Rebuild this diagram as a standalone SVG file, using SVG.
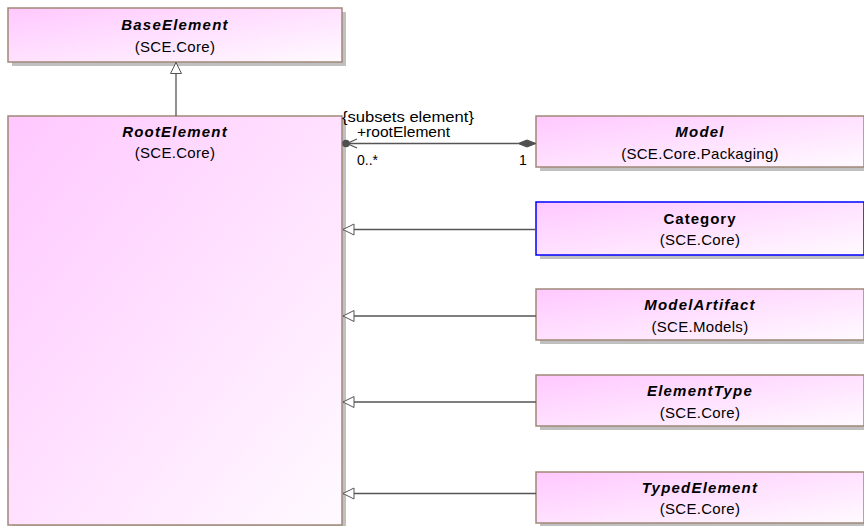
<svg xmlns="http://www.w3.org/2000/svg" width="864" height="526" viewBox="0 0 864 526">
<defs>
<linearGradient id="fill" x1="0" y1="0" x2="1" y2="1">
<stop offset="0" stop-color="#ffc8ff"/>
<stop offset="1" stop-color="#fffaff"/>
</linearGradient>
<marker id="gen" markerWidth="14" markerHeight="14" refX="12" refY="7" orient="auto" markerUnits="userSpaceOnUse">
<path d="M12,7 L1,1.5 L1,12.5 Z" fill="#fff" stroke="#555" stroke-width="1"/>
</marker>
</defs>
<style>
.shadow{fill:#c0c0c0}
.box{fill:url(#fill);stroke:#a08878;stroke-width:1.5}
.boxb{fill:url(#fill);stroke:#0000ff;stroke-width:1.5}
.t{font-family:"Liberation Sans",Arial,sans-serif;font-size:15px;font-weight:bold;font-style:italic;text-anchor:middle;letter-spacing:1.2px;fill:#000}
.tb{font-family:"Liberation Sans",Arial,sans-serif;font-size:15px;font-weight:bold;text-anchor:middle;letter-spacing:1px;fill:#000}
.s{font-family:"Liberation Sans",Arial,sans-serif;font-size:15px;text-anchor:middle;letter-spacing:0.3px;fill:#000}
.l{font-family:"Liberation Sans",Arial,sans-serif;font-size:14px;fill:#000}
.c{stroke:#555;stroke-width:1.3;fill:none}
</style>

<g id="BaseElement">
<rect class="shadow" x="12" y="12" width="334" height="54"/>
<rect class="box" x="8" y="8" width="334" height="54"/>
<text class="t" x="175" y="29.5">BaseElement</text>
<text class="s" x="175" y="51.5">(SCE.Core)</text>
</g>

<g id="RootElement">
<rect class="shadow" x="12" y="120" width="334" height="410"/>
<rect class="box" x="8" y="116" width="334" height="409"/>
<text class="t" x="175" y="137">RootElement</text>
<text class="s" x="175" y="158">(SCE.Core)</text>
</g>

<g id="Model">
<rect class="shadow" x="540" y="120" width="330" height="51"/>
<rect class="box" x="536" y="116" width="328" height="51"/>
<text class="t" x="700" y="137">Model</text>
<text class="s" x="700" y="158.5">(SCE.Core.Packaging)</text>
</g>

<g id="Category">
<rect class="shadow" x="540" y="206" width="330" height="53"/>
<rect class="boxb" x="536" y="202" width="328" height="53"/>
<text class="tb" x="700" y="223.5">Category</text>
<text class="s" x="700" y="245">(SCE.Core)</text>
</g>

<g id="ModelArtifact">
<rect class="shadow" x="540" y="293" width="330" height="51"/>
<rect class="box" x="536" y="289" width="328" height="51"/>
<text class="t" x="700" y="310">ModelArtifact</text>
<text class="s" x="700" y="331.5">(SCE.Models)</text>
</g>

<g id="ElementType">
<rect class="shadow" x="540" y="379" width="330" height="51"/>
<rect class="box" x="536" y="375" width="328" height="51"/>
<text class="t" x="700" y="396">ElementType</text>
<text class="s" x="700" y="417.5">(SCE.Core)</text>
</g>

<g id="TypedElement">
<rect class="shadow" x="540" y="476" width="330" height="51"/>
<rect class="box" x="536" y="472" width="328" height="51"/>
<text class="t" x="700" y="492.5">TypedElement</text>
<text class="s" x="700" y="514">(SCE.Core)</text>
</g>

<g id="connectors">
<line class="c" x1="176" y1="116" x2="176" y2="62.5" marker-end="url(#gen)"/>
<line class="c" x1="536" y1="229.5" x2="343" y2="229.5" marker-end="url(#gen)"/>
<line class="c" x1="536" y1="316" x2="343" y2="316" marker-end="url(#gen)"/>
<line class="c" x1="536" y1="402" x2="343" y2="402" marker-end="url(#gen)"/>
<line class="c" x1="536" y1="493.5" x2="343" y2="493.5" marker-end="url(#gen)"/>
<line class="c" x1="518" y1="143.5" x2="347" y2="143.5"/>
<path d="M536,143.5 L527,140 L518,143.5 L527,147 Z" fill="#505050" stroke="#505050" stroke-width="1"/>
<path class="c" d="M357,139 L347,143.5 L357,148"/>
<circle cx="346" cy="143.5" r="3.8" fill="#505050"/>
<text class="l" x="342" y="121.5" textLength="132" lengthAdjust="spacingAndGlyphs">{subsets element}</text>
<text class="l" x="357" y="137" textLength="93" lengthAdjust="spacingAndGlyphs">+rootElement</text>
<text class="l" x="357" y="164.5">0..*</text>
<text class="l" x="519" y="164.5">1</text>
</g>
</svg>
